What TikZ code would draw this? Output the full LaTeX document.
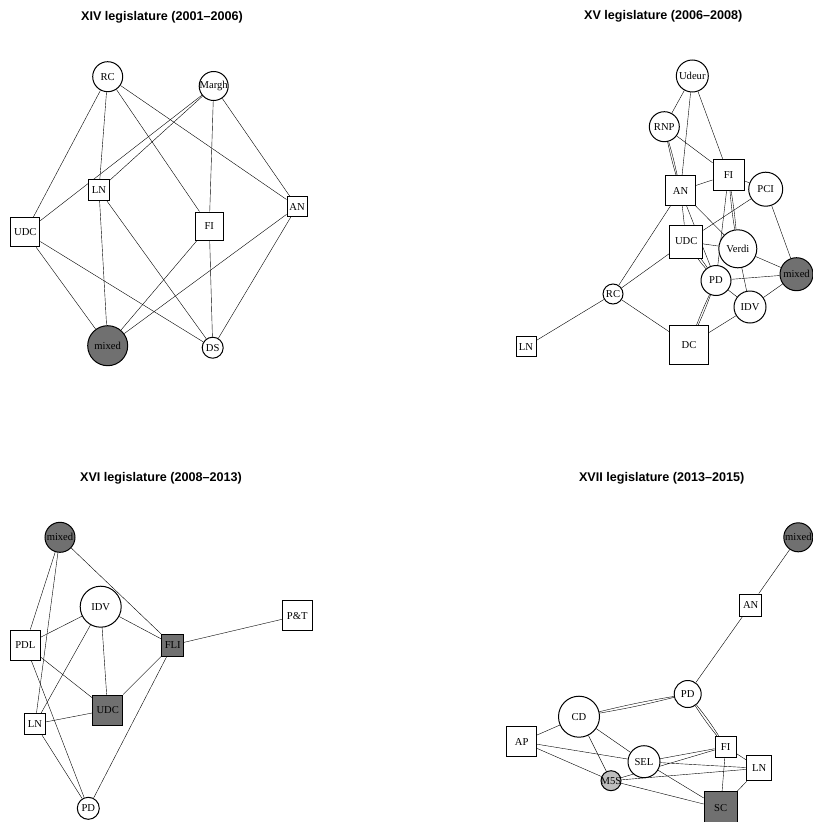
\documentclass[tikz,border=0pt]{standalone}
\usepackage{fontspec}
\setmainfont{Liberation Serif}
\newfontfamily\titlefont{Liberation Sans}
\usetikzlibrary{backgrounds}
\definecolor{dgray}{RGB}{112,112,112}
\definecolor{lgray}{RGB}{190,190,190}
\newcommand{\nlab}[1]{\makebox[0pt]{#1}}
\tikzset{
  vc/.style={circle, draw, fill=white, inner sep=0pt, minimum size=#1, font=\fontsize{10.6}{10.6}\selectfont},
  vs/.style={rectangle, draw, fill=white, inner sep=0pt, minimum size=#1, font=\fontsize{10.6}{10.6}\selectfont},
  ttl/.style={font=\titlefont\bfseries\fontsize{12.6}{12.6}\selectfont, inner sep=0pt},
}
\begin{document}
\begin{tikzpicture}[x=1pt, y=-1pt, line width=1pt]
\useasboundingbox (0,0) rectangle (813,822);
% ---------- Panel 1 ----------
\node[ttl] (t1) at (162,17) {XIV legislature (2001–2006)};
\node[vc=30pt] (aRC) at (107.7,76.7) {\nlab{RC}};
\node[vc=29pt] (aMargh) at (213.7,86) {\nlab{Margh}};
\node[vs=21pt] (aLN) at (99,190) {\nlab{LN}};
\node[vs=20pt] (aAN) at (297,206.7) {\nlab{AN}};
\node[vs=29pt] (aUDC) at (25.3,232.3) {\nlab{UDC}};
\node[vs=28pt] (aFI) at (209.3,226) {\nlab{FI}};
\node[vc=40pt, fill=dgray] (amixed) at (107.7,345.7) {\nlab{mixed}};
\node[vc=21pt] (aDS) at (212.7,347.7) {\nlab{DS}};
\begin{scope}[on background layer]
\draw (aRC) -- (aUDC) (aRC) -- (aLN) (aRC) -- (aFI) (aRC) -- (aAN);
\draw (aMargh) -- (aUDC) (aMargh) -- (aLN) (aMargh) -- (aFI) (aMargh) -- (aAN);
\draw (aLN) -- (amixed) (aLN) -- (aDS);
\draw (aUDC) -- (amixed) (aUDC) -- (aDS);
\draw (aFI) -- (amixed) (aFI) -- (aDS);
\draw (aAN) -- (amixed) (aAN) -- (aDS);
\end{scope}
% ---------- Panel 2 ----------
\node[ttl] (t2) at (663.3,16.7) {XV legislature (2006–2008)};
\node[vc=32pt] (bUdeur) at (692.3,76) {\nlab{Udeur}};
\node[vc=30pt] (bRNP) at (664.3,126.7) {\nlab{RNP}};
\node[vs=31pt] (bFI) at (728.5,174.7) {\nlab{FI}};
\node[vs=30pt] (bAN) at (680.5,190.5) {\nlab{AN}};
\node[vc=34pt] (bPCI) at (765.7,189.2) {\nlab{PCI}};
\node[vs=33pt] (bUDC) at (686.2,241.5) {\nlab{UDC}};
\node[vc=38pt] (bVerdi) at (737.8,248.8) {\nlab{Verdi}};
\node[vc=33pt, fill=dgray] (bmixed) at (796.5,274.2) {\nlab{mixed}};
\node[vc=30pt] (bPD) at (716,280.5) {\nlab{PD}};
\node[vc=32pt] (bIDV) at (750,307) {\nlab{IDV}};
\node[vc=20pt] (bRC) at (613,294) {\nlab{RC}};
\node[vs=39pt] (bDC) at (689,345) {\nlab{DC}};
\node[vs=20pt] (bLN) at (526,346.7) {\nlab{LN}};
\begin{scope}[on background layer]
\draw (bUdeur) -- (bRNP) (bUdeur) -- (bAN) (bUdeur) -- (bFI);
\draw (bRNP) to[bend left=2] (bAN) (bRNP) to[bend right=2] (bAN);
\draw (bRNP) -- (bFI) (bAN) -- (bFI) (bFI) -- (bPCI);
\draw (bAN) -- (bUDC) (bAN) -- (bPD) (bAN) -- (bVerdi) (bAN) -- (bRC);
\draw (bFI) to[bend left=2] (bVerdi) (bFI) to[bend right=2] (bVerdi);
\draw (bFI) -- (bPD) (bVerdi) -- (bIDV);
\draw (bPCI) -- (bUDC) (bPCI) -- (bmixed);
\draw (bUDC) -- (bVerdi) (bUDC) -- (bRC);
\draw (bUDC) to[bend left=3] (bPD) (bUDC) to[bend right=3] (bPD);
\draw (bVerdi) -- (bmixed) (bPD) -- (bmixed);
\draw (bPD) to[bend left=2] (bDC) (bPD) to[bend right=2] (bDC);
\draw (bPD) -- (bIDV) (bIDV) -- (bmixed) (bIDV) -- (bDC);
\draw (bRC) -- (bDC) (bRC) -- (bLN);
\end{scope}
% ---------- Panel 3 ----------
\node[ttl] (t3) at (161,478.3) {XVI legislature (2008–2013)};
\node[vc=30pt, fill=dgray] (cmixed) at (60,537.3) {\nlab{mixed}};
\node[vc=41pt] (cIDV) at (100.7,606.7) {\nlab{IDV}};
\node[vs=30pt] (cPT) at (297.3,615.7) {\nlab{P\&T}};
\node[vs=30pt] (cPDL) at (25.3,645) {\nlab{PDL}};
\node[vs=22pt, fill=dgray] (cFLI) at (172.7,645) {\nlab{FLI}};
\node[vs=30pt, fill=dgray] (cUDC) at (107.7,710) {\nlab{UDC}};
\node[vs=21pt] (cLN) at (35,724) {\nlab{LN}};
\node[vc=22pt] (cPD) at (88.3,808.3) {\nlab{PD}};
\begin{scope}[on background layer]
\draw (cmixed) -- (cPDL) (cmixed) -- (cLN) (cmixed) -- (cFLI);
\draw (cIDV) -- (cPDL) (cIDV) -- (cFLI) (cIDV) -- (cUDC) (cIDV) -- (cLN);
\draw (cFLI) -- (cPT) (cFLI) -- (cUDC) (cFLI) -- (cPD);
\draw (cPDL) -- (cUDC) (cPDL) -- (cPD);
\draw (cLN) -- (cUDC) (cLN) -- (cPD);
\end{scope}
% ---------- Panel 4 ----------
\node[ttl] (t4) at (661.7,478.3) {XVII legislature (2013–2015)};
\node[vc=29pt, fill=dgray] (dmixed) at (798.3,537.3) {\nlab{mixed}};
\node[vs=22pt] (dAN) at (750.7,605) {\nlab{AN}};
\node[vc=27pt] (dPD) at (687.7,694) {\nlab{PD}};
\node[vc=41pt] (dCD) at (579,716.7) {\nlab{CD}};
\node[vs=30pt] (dAP) at (521.7,741.7) {\nlab{AP}};
\node[vs=21pt] (dFI) at (725.7,746.7) {\nlab{FI}};
\node[vc=32pt] (dSEL) at (644,761.7) {\nlab{SEL}};
\node[vs=25pt] (dLN) at (759.3,768.3) {\nlab{LN}};
\node[vc=20pt, fill=lgray] (dM5S) at (611,780.7) {\nlab{M5S}};
\node[vs=33pt, fill=dgray] (dSC) at (720.7,808.3) {\nlab{SC}};
\begin{scope}[on background layer]
\draw (dmixed) -- (dAN) (dAN) -- (dPD);
\draw (dPD) to[bend left=2] (dCD) (dPD) to[bend right=2] (dCD);
\draw (dPD) to[bend left=3] (dFI) (dPD) to[bend right=3] (dFI);
\draw (dCD) -- (dAP) (dCD) -- (dSEL) (dCD) -- (dM5S);
\draw (dAP) -- (dSEL) (dAP) -- (dM5S);
\draw (dSEL) -- (dFI) (dM5S) -- (dFI) (dSEL) -- (dLN) (dM5S) -- (dLN);
\draw (dSEL) -- (dSC) (dM5S) -- (dSC);
\draw (dFI) -- (dSC) (dFI) -- (dLN) (dLN) -- (dSC);
\end{scope}
\end{tikzpicture}
\end{document}
